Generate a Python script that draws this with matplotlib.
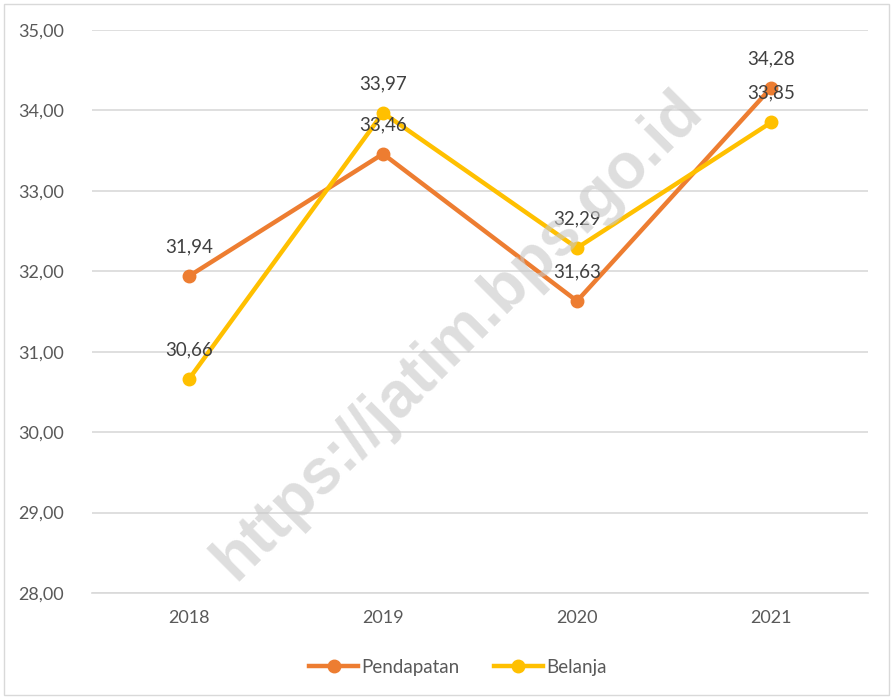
import matplotlib.pyplot as plt
from matplotlib.patches import Rectangle

years = ["2018", "2019", "2020", "2021"]
pendapatan = [31.94, 33.46, 31.63, 34.28]
belanja = [30.66, 33.97, 32.29, 33.85]
yticks = [28, 29, 30, 31, 32, 33, 34, 35]

plt.rcParams['font.family'] = ['Lato', 'DejaVu Sans']

fig = plt.figure(figsize=(8.93, 6.99), dpi=100)
ax = fig.add_axes([92/893, 1-593/699, 776/893, 563/699])

fig.patches.append(Rectangle((4/893, 4/699), 885/893, 691/699, transform=fig.transFigure,
                             fill=False, edgecolor='#d9d9d9', linewidth=1))

x = list(range(len(years)))
ax.plot(x, pendapatan, color='#ED7D31', lw=3.2, marker='o', ms=9, label='Pendapatan', zorder=3)
ax.plot(x, belanja, color='#FFC000', lw=3.2, marker='o', ms=9, label='Belanja', zorder=3)

for xi, v in zip(x, pendapatan):
    ax.annotate(f"{v:.2f}".replace('.', ','), (xi, v), xytext=(0, 21), textcoords='offset points',
                ha='center', va='center', fontsize=13.5, color='#404040', zorder=4)
for xi, v in zip(x, belanja):
    ax.annotate(f"{v:.2f}".replace('.', ','), (xi, v), xytext=(0, 21), textcoords='offset points',
                ha='center', va='center', fontsize=13.5, color='#404040', zorder=4)

ax.set_xlim(-0.5, 3.5)
ax.set_ylim(28, 35)
ax.set_xticks(x)
ax.set_xticklabels(years)
ax.set_yticks(yticks)
ax.set_yticklabels([f"{t:.2f}".replace('.', ',') for t in yticks])
ax.tick_params(length=0, labelsize=13, labelcolor='#595959')
ax.tick_params(axis='y', pad=20)
ax.tick_params(axis='x', pad=12)
ax.grid(axis='y', color='#d9d9d9', lw=1.2)
ax.set_axisbelow(True)
for s in ['top', 'right', 'left']:
    ax.spines[s].set_visible(False)
ax.spines['bottom'].set_color('#d9d9d9')
ax.spines['bottom'].set_linewidth(1.2)

fig.text(458/893, 1-335/699, "https://jatim.bps.go.id", rotation=45, ha='center', va='center',
         fontsize=46, fontweight='bold', color='#c8c8c8', alpha=0.6, family='Liberation Sans', zorder=5)

fig.legend(loc='center', bbox_to_anchor=(458/893, 1-667/699), ncol=2, frameon=False,
           fontsize=13.5, labelcolor='#595959', handlelength=2.6, columnspacing=1.8, handletextpad=0.2)

fig.savefig("out.png", dpi=100)
